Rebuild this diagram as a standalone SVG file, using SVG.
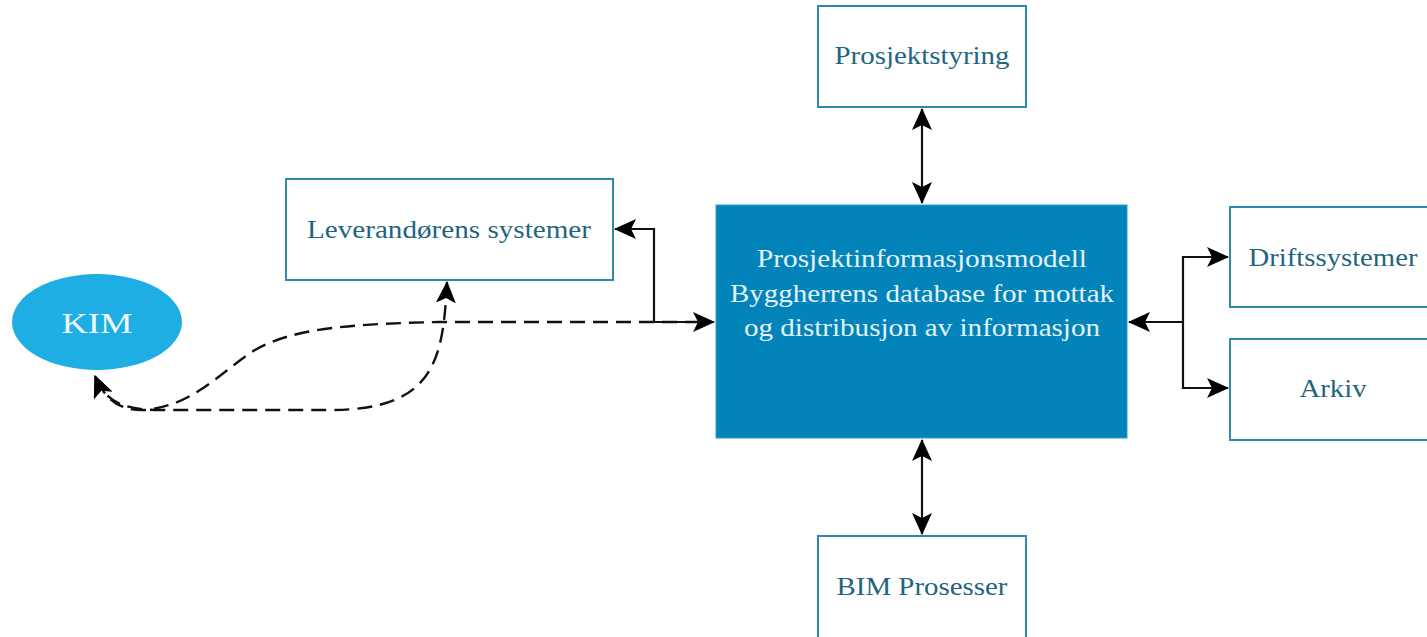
<svg xmlns="http://www.w3.org/2000/svg" width="1427" height="637" viewBox="0 0 1427 637">
<style>
.box{fill:#ffffff;stroke:#2d8aae;stroke-width:2}
.lbl{font-family:"Liberation Serif","Times New Roman",serif;font-size:26px;fill:#1f6582;text-anchor:middle;dominant-baseline:central}
.wl{font-family:"Liberation Serif","Times New Roman",serif;font-size:26px;fill:#e4f1f7;text-anchor:middle;dominant-baseline:central}
.ln{fill:none;stroke:#111;stroke-width:2.2}
.dl{fill:none;stroke:#111;stroke-width:2.4;stroke-dasharray:15 8}
</style>
<defs>
<marker id="ah" markerWidth="24" markerHeight="22" refX="21" refY="10" orient="auto-start-reverse" markerUnits="userSpaceOnUse">
<path d="M0,0 L22,10 L0,20 L5,10 Z" fill="#000"/>
</marker>
</defs>
<g id="connectors">
<line class="ln" x1="922" y1="109" x2="922" y2="203" marker-start="url(#ah)" marker-end="url(#ah)"/>
<line class="ln" x1="922" y1="440" x2="922" y2="534" marker-start="url(#ah)" marker-end="url(#ah)"/>
<polyline class="ln" points="615,229 654,229 654,322 714,322" marker-start="url(#ah)" marker-end="url(#ah)"/>
<polyline class="ln" points="1129,322 1183,322" marker-start="url(#ah)"/>
<polyline class="ln" points="1228,257 1183,257 1183,388 1228,388" marker-start="url(#ah)" marker-end="url(#ah)"/>
<path class="dl" d="M447,282 C443,360 435,410 330,410 L160,410 C120,410 105,400 95,376" marker-start="url(#ah)" marker-end="url(#ah)"/>
<path class="dl" d="M700,322 L440,322 C340,324 290,330 255,350 C220,372 195,405 145,410 C120,411 105,400 95,376" marker-end="url(#ah)"/>
</g>
<g id="prosjektstyring">
<rect class="box" x="818" y="6" width="208" height="101"/>
<text class="lbl" x="922" y="55" textLength="175" lengthAdjust="spacingAndGlyphs">Prosjektstyring</text>
</g>
<g id="pim">
<rect x="716" y="205" width="411" height="233" fill="#0284bb" stroke="#2aa0d0" stroke-width="1"/>
<text class="wl" x="922" y="258" textLength="330" lengthAdjust="spacingAndGlyphs">Prosjektinformasjonsmodell</text>
<text class="wl" x="922" y="293" textLength="384" lengthAdjust="spacingAndGlyphs">Byggherrens database for mottak</text>
<text class="wl" x="922" y="327" textLength="356" lengthAdjust="spacingAndGlyphs">og distribusjon av informasjon</text>
</g>
<g id="leverandor">
<rect class="box" x="286" y="179" width="327" height="101"/>
<text class="lbl" x="449" y="229" textLength="284" lengthAdjust="spacingAndGlyphs">Leverandørens systemer</text>
</g>
<g id="kim">
<ellipse cx="97" cy="322" rx="85" ry="48" fill="#1eaee3"/>
<text class="wl" x="97" y="322" style="font-size:30px;fill:#f0f8fc" textLength="71" lengthAdjust="spacingAndGlyphs">KIM</text>
</g>
<g id="drift">
<rect class="box" x="1230" y="207" width="210" height="100"/>
<text class="lbl" x="1333" y="257" textLength="169" lengthAdjust="spacingAndGlyphs">Driftssystemer</text>
</g>
<g id="arkiv">
<rect class="box" x="1230" y="339" width="210" height="101"/>
<text class="lbl" x="1333" y="388" textLength="67" lengthAdjust="spacingAndGlyphs">Arkiv</text>
</g>
<g id="bim">
<rect class="box" x="818" y="536" width="208" height="110"/>
<text class="lbl" x="922" y="586" textLength="171" lengthAdjust="spacingAndGlyphs">BIM Prosesser</text>
</g>
</svg>
